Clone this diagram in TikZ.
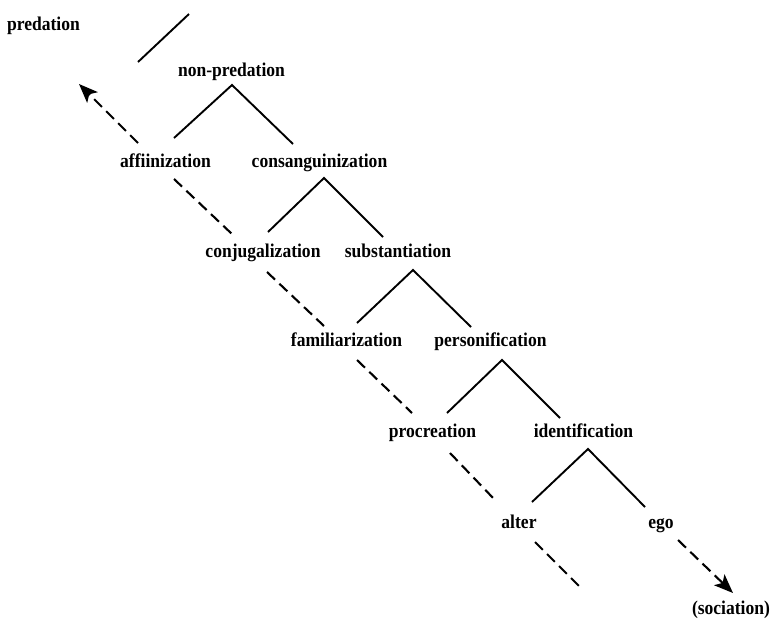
\documentclass[tikz,border=0pt]{standalone}
\usepackage{fontspec}
\newfontfamily\lblfont[FakeStretch=0.9]{Liberation Serif}
\usetikzlibrary{arrows.meta}

\begin{document}
\begin{tikzpicture}[x=1pt,y=-1pt,
  lbl/.style={anchor=base,inner sep=0pt,font=\lblfont\fontsize{19.5}{22}\selectfont\bfseries},
  branch/.style={line width=1.9pt},
  trail/.style={line width=2.1pt,dash pattern=on 11pt off 6pt},
  tipped/.style={-{Stealth[length=19pt,width=15pt,inset=4.5pt]}}]

\useasboundingbox (0,0) rectangle (772,622);

% labels
\node[lbl] (pred)   at (43.5,30)  {predation};
\node[lbl] (npred)  at (231.5,76) {non-predation};
\node[lbl] (affi)   at (165.5,167) {affiinization};
\node[lbl] (consa)  at (319.5,167) {consanguinization};
\node[lbl] (conj)   at (263,257)  {conjugalization};
\node[lbl] (subst)  at (398,257)  {substantiation};
\node[lbl] (fami)   at (346.5,346) {familiarization};
\node[lbl] (perso)  at (490.5,346) {personification};
\node[lbl] (procr)  at (432.5,437) {procreation};
\node[lbl] (ident)  at (583.5,437) {identification};
\node[lbl] (alter)  at (519,528)  {alter};
\node[lbl] (ego)    at (661,528)  {ego};
\node[lbl] (socia)  at (731,614)  {(sociation)};

% branch points and branch ends
\coordinate (s1) at (138,62);  \coordinate (s2) at (189,14);
\coordinate (a1) at (232,85);  \coordinate (l1) at (174,138); \coordinate (r1) at (293,144);
\coordinate (a2) at (324,178); \coordinate (l2) at (268,232); \coordinate (r2) at (383,237);
\coordinate (a3) at (413,270); \coordinate (l3) at (357,323); \coordinate (r3) at (471,327);
\coordinate (a4) at (502,360); \coordinate (l4) at (447,413); \coordinate (r4) at (560,418);
\coordinate (a5) at (588,449); \coordinate (l5) at (532,502); \coordinate (r5) at (645,507);

\draw[branch] (s1) -- (s2);
\draw[branch] (l1) -- (a1) -- (r1);
\draw[branch] (l2) -- (a2) -- (r2);
\draw[branch] (l3) -- (a3) -- (r3);
\draw[branch] (l4) -- (a4) -- (r4);
\draw[branch] (l5) -- (a5) -- (r5);

% dashed diagonal
\coordinate (t0a) at (138,143); \coordinate (t0b) at (79,84);
\coordinate (t1a) at (174,179); \coordinate (t1b) at (233,235);
\coordinate (t2a) at (267,272); \coordinate (t2b) at (324,326);
\coordinate (t3a) at (357,360); \coordinate (t3b) at (412,413);
\coordinate (t4a) at (450,453); \coordinate (t4b) at (495,500);
\coordinate (t5a) at (535,542); \coordinate (t5b) at (580,587);
\coordinate (t6a) at (678,540); \coordinate (t6b) at (733,593);

\draw[trail,tipped] (t0a) -- (t0b);
\draw[trail] (t1a) -- (t1b);
\draw[trail] (t2a) -- (t2b);
\draw[trail] (t3a) -- (t3b);
\draw[trail] (t4a) -- (t4b);
\draw[trail] (t5a) -- (t5b);
\draw[trail,tipped] (t6a) -- (t6b);

\end{tikzpicture}
\end{document}
